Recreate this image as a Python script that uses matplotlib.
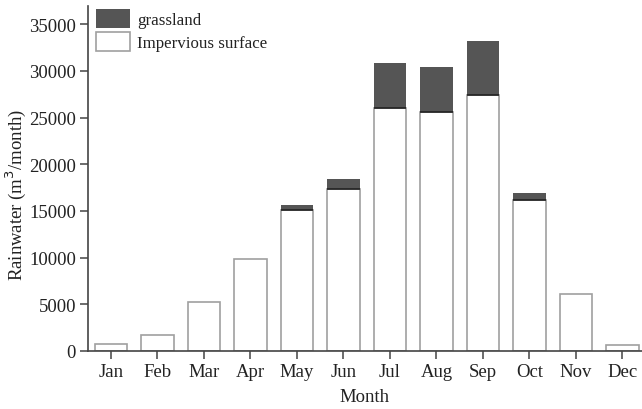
import matplotlib
matplotlib.use("Agg")
import matplotlib.pyplot as plt
import numpy as np

months = ["Jan", "Feb", "Mar", "Apr", "May", "Jun", "Jul", "Aug", "Sep", "Oct", "Nov", "Dec"]
impervious = [700, 1700, 5280, 9850, 15050, 17300, 26000, 25620, 27440, 16120, 6100, 650]
grassland = [0, 0, 0, 0, 580, 1110, 4830, 4750, 5720, 830, 0, 0]
yticks = [0, 5000, 10000, 15000, 20000, 25000, 30000, 35000]

plt.rcParams['font.family'] = ['Liberation Serif', 'DejaVu Serif']

fig = plt.figure(figsize=(6.42, 4.10), dpi=100)
ax = fig.add_axes([87.7 / 642, 1 - 352 / 410, 1 - 87.7 / 642, (352 - 7) / 410])

x = np.arange(len(months))
w = 0.7
imp = np.array(impervious)
gra = np.array(grassland)

ax.bar(x, imp, width=w, color='white', edgecolor='#a0a0a0', linewidth=1.2,
       label='Impervious surface', zorder=2)
ax.bar(x, gra, width=w, bottom=imp, color='#555555', edgecolor='none',
       label='grassland', zorder=2)
mask = gra > 0
ax.hlines(imp[mask], x[mask] - w / 2, x[mask] + w / 2, colors='#222222', linewidth=1.2, zorder=3)

ax.set_xlim(-0.5, 11.42)
ax.set_ylim(0, 36950)
ax.set_yticks(yticks)
ax.set_xticks(x)
ax.set_xticklabels(months)

for s in ['top', 'right']:
    ax.spines[s].set_visible(False)
for s in ['left', 'bottom']:
    ax.spines[s].set_color('#444444')
    ax.spines[s].set_linewidth(1.2)

ax.tick_params(axis='both', direction='out', length=5.5, width=1.1, color='#444444',
               labelsize=13.5, labelcolor='#222222', pad=3)

ax.set_ylabel('Rainwater (m$^3$/month)', fontsize=13.5, color='#222222')
ax.yaxis.set_label_coords(-0.108, 0.455)
ax.set_xlabel('Month', fontsize=13.5, color='#222222', labelpad=6)

handles, labels = ax.get_legend_handles_labels()
leg = ax.legend(handles[::-1], labels[::-1], loc='upper left', frameon=False,
                fontsize=12.2, handlelength=2.0, handleheight=1.4,
                borderaxespad=0.0, borderpad=0.15,
                labelspacing=0.2, handletextpad=0.45, bbox_to_anchor=(0.01, 1.0))
for t in leg.get_texts():
    t.set_color('#222222')

fig.savefig('out.png', dpi=100)
